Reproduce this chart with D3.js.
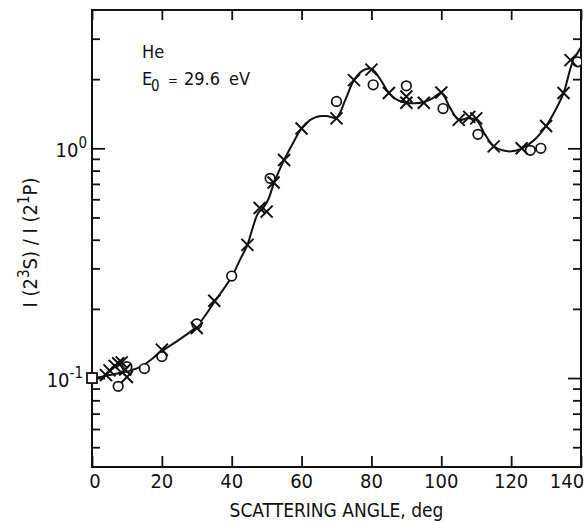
<!DOCTYPE html>
<html><head><meta charset="utf-8">
<script src="https://cdn.jsdelivr.net/npm/d3@7"></script>
<style>
html,body{margin:0;padding:0;background:#fff;}
svg text{font-family:"Liberation Sans Narrow","DejaVu Sans Condensed","Liberation Sans",sans-serif;fill:#111;}
</style></head>
<body><svg id="c" width="584" height="521"></svg>
<script>
// ---- data ----
const crossAngle = [4, 5, 6.5, 7.5, 8.5, 9.5, 10, 20, 30, 35, 44.5, 48, 50, 52, 55, 60, 70, 75, 80, 85, 90, 90, 95, 100, 105, 108, 110, 115, 123, 130, 135, 137];
const crossRatio = [0.103, 0.108, 0.113, 0.116, 0.117, 0.109, 0.101, 0.133, 0.165, 0.217, 0.38, 0.55, 0.53, 0.71, 0.89, 1.22, 1.35, 1.98, 2.2, 1.74, 1.68, 1.58, 1.58, 1.75, 1.33, 1.37, 1.35, 1.02, 1.0, 1.25, 1.74, 2.42];
const circleAngle = [7.5, 10, 15, 20, 30, 40, 51, 70, 80.5, 90, 100.5, 110.5, 125.5, 128.5, 139];
const circleRatio = [0.092, 0.112, 0.11, 0.124, 0.172, 0.278, 0.74, 1.6, 1.89, 1.87, 1.49, 1.15, 0.98, 1.0, 2.38];
const squareAngle = [0];
const squareRatio = [0.1];
const curveAngle = [1, 5, 10, 14, 20, 25, 30, 35, 40, 42.5, 44.5, 46, 47.5, 49, 50.5, 52, 55, 57.5, 60, 62.5, 65, 67.5, 70, 72.5, 75, 77.5, 80, 82.5, 85, 87.5, 90, 92.5, 95, 97.5, 100, 102.5, 105, 107.5, 110, 112.5, 115, 117.5, 120, 122.5, 125, 127.5, 130, 132.5, 135, 137.5, 140];
const curveRatio = [0.1, 0.103, 0.107, 0.112, 0.131, 0.147, 0.168, 0.214, 0.276, 0.33, 0.38, 0.45, 0.52, 0.55, 0.6, 0.7, 0.89, 1.05, 1.22, 1.33, 1.38, 1.38, 1.36, 1.62, 1.98, 2.18, 2.22, 2.0, 1.74, 1.62, 1.58, 1.57, 1.59, 1.65, 1.74, 1.5, 1.33, 1.35, 1.33, 1.15, 1.02, 0.98, 0.97, 0.99, 1.04, 1.12, 1.25, 1.45, 1.74, 2.35, 2.75];
const xTicks = [0, 20, 40, 60, 80, 100, 120, 140];
const yMajor = [0.1, 1];
const yMajorExp = ["-1", "0"];
const yMinor = [0.05, 0.06, 0.07, 0.08, 0.09, 0.2, 0.3, 0.4, 0.5, 0.6, 0.7, 0.8, 0.9, 2, 3];

// ---- layout ----
const L = 92, R = 581, T = 10, B = 467;
const svg = d3.select("#c");
const x = d3.scaleLinear().domain([0, 140]).range([L, R]);
const y = d3.scaleLog().domain([0.041, 4]).range([B, T]);
const ink = "#111";

svg.append("defs").append("clipPath").attr("id", "clip")
  .append("rect").attr("x", L).attr("y", T).attr("width", R - L).attr("height", B - T);

function styleAxis(g) {
  g.select(".domain").remove();
  g.selectAll("line").attr("stroke", ink).attr("stroke-width", 1.8);
}
svg.append("g").attr("transform", `translate(0,${B})`)
  .call(d3.axisBottom(x).tickValues(xTicks).tickSize(-11).tickFormat(""))
  .call(styleAxis);
svg.append("g").attr("transform", `translate(0,${T})`)
  .call(d3.axisTop(x).tickValues(xTicks).tickSize(-10).tickFormat(""))
  .call(styleAxis);
svg.append("g").attr("transform", `translate(${L},0)`)
  .call(d3.axisLeft(y).tickValues(yMajor).tickSize(-13).tickFormat("")).call(styleAxis);
svg.append("g").attr("transform", `translate(${L},0)`)
  .call(d3.axisLeft(y).tickValues(yMinor).tickSize(-8).tickFormat("")).call(styleAxis);
svg.append("g").attr("transform", `translate(${R},0)`)
  .call(d3.axisRight(y).tickValues(yMajor).tickSize(-13).tickFormat("")).call(styleAxis);
svg.append("g").attr("transform", `translate(${R},0)`)
  .call(d3.axisRight(y).tickValues(yMinor).tickSize(-8).tickFormat("")).call(styleAxis);

// frame
svg.append("rect").attr("x", L).attr("y", T).attr("width", R - L).attr("height", B - T)
  .attr("fill", "none").attr("stroke", ink).attr("stroke-width", 2);

// x tick labels
svg.append("g").selectAll("text").data(xTicks).join("text")
  .attr("x", d => x(d) + (d === 0 ? 3 : d === 140 ? -14 : 0)).attr("y", B + 21)
  .attr("text-anchor", "middle").attr("font-size", 20).text(d => d);

// y tick labels
const yl = svg.append("g").selectAll("text").data(yMajor).join("text")
  .attr("x", d => L - (d === 1 ? 5 : 9)).attr("y", d => y(d) + 9).attr("text-anchor", "end").attr("font-size", 20);
yl.append("tspan").text("10");
yl.append("tspan").attr("dy", -9).attr("font-size", 15).text((d, i) => yMajorExp[i]);

// axis titles
svg.append("text").attr("x", (L + R) / 2).attr("y", B + 50).attr("text-anchor", "middle")
  .attr("font-size", 19).text("SCATTERING ANGLE, deg");
const yt = svg.append("text").attr("transform", `translate(37,${(T + B) / 2 + 4}) rotate(-90)`)
  .attr("text-anchor", "middle").attr("font-size", 20);
yt.append("tspan").text("I (2");
yt.append("tspan").attr("dy", -8).attr("font-size", 15).text("3");
yt.append("tspan").attr("dy", 8).text("S) / I (2");
yt.append("tspan").attr("dy", -8).attr("font-size", 15).text("1");
yt.append("tspan").attr("dy", 8).text("P)");

// annotation
svg.append("text").attr("x", 142).attr("y", 58).attr("font-size", 18).text("He");
const ann = svg.append("text").attr("y", 85).attr("font-size", 18);
ann.append("tspan").attr("x", 142).text("E");
ann.append("tspan").attr("x", 151).attr("dy", 6).attr("font-size", 15).text("0");
ann.append("tspan").attr("x", 168).attr("dy", -6).attr("font-size", 13).text("=");
ann.append("tspan").attr("x", 184).attr("font-size", 18).text("29.6");
ann.append("tspan").attr("x", 229).text("eV");

// curve
const curveData = curveAngle.map((a, i) => [a, curveRatio[i]]);
svg.append("path").datum(curveData).attr("clip-path", "url(#clip)")
  .attr("fill", "none").attr("stroke", ink).attr("stroke-width", 2)
  .attr("d", d3.line().x(d => x(d[0])).y(d => y(d[1])).curve(d3.curveCatmullRom.alpha(0.5)));

// square
svg.append("g").selectAll("rect").data(squareAngle).join("rect")
  .attr("x", d => x(d) - 5).attr("y", (d, i) => y(squareRatio[i]) - 5)
  .attr("width", 10).attr("height", 10).attr("fill", "#fff").attr("stroke", ink).attr("stroke-width", 1.8);

// circles
svg.append("g").attr("clip-path", "url(#clip)").selectAll("circle").data(circleAngle).join("circle")
  .attr("cx", d => x(d)).attr("cy", (d, i) => y(circleRatio[i])).attr("r", 4.8)
  .attr("fill", "#fff").attr("stroke", ink).attr("stroke-width", 1.7);

// crosses
const cs = 6;
svg.append("g").selectAll("path").data(crossAngle).join("path")
  .attr("d", (d, i) => {
    const cx = x(d), cy = y(crossRatio[i]);
    return `M${cx - cs},${cy - cs}L${cx + cs},${cy + cs}M${cx - cs},${cy + cs}L${cx + cs},${cy - cs}`;
  })
  .attr("fill", "none").attr("stroke", ink).attr("stroke-width", 2);
</script></body></html>
